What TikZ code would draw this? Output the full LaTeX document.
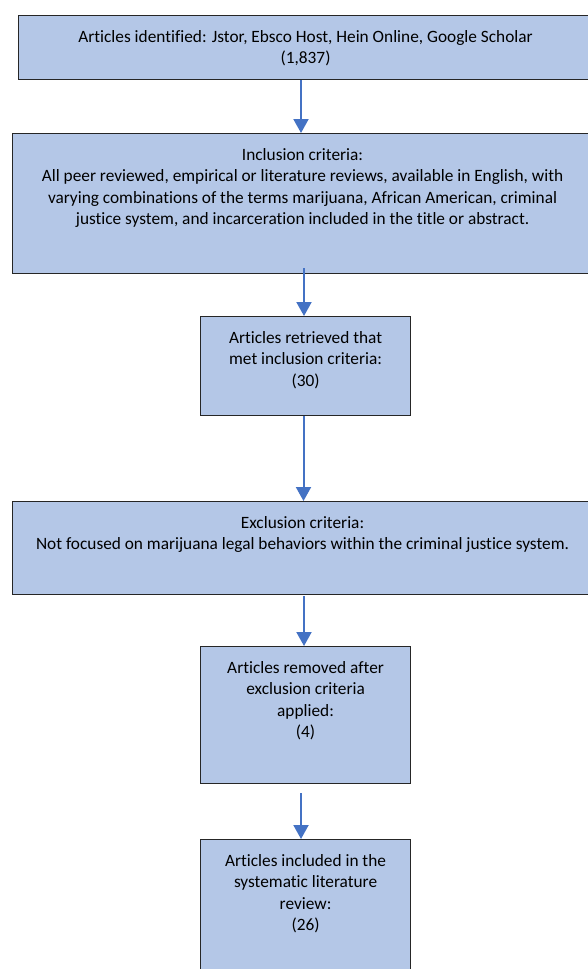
\documentclass[tikz,border=0pt]{standalone}
\usepackage{fontspec}
\setmainfont{Carlito}[Ligatures=NoCommon]
\usetikzlibrary{arrows.meta}
\definecolor{boxfill}{HTML}{B4C7E7}
\definecolor{boxline}{HTML}{262626}
\definecolor{arrowblue}{HTML}{4472C4}
\begin{document}
\begin{tikzpicture}[x=1pt,y=-1pt,
  flowbox/.style={draw=boxline, fill=boxfill, line width=1.1pt, inner sep=0pt, anchor=north west},
  boxtext/.style={anchor=north, inner sep=0pt, align=center, text=black,
    font=\fontsize{17.3}{21.5}\selectfont},
  flowarrow/.style={draw=arrowblue, line width=2pt, -{Triangle[width=15pt,length=14pt]}}]
\useasboundingbox (0,0) rectangle (588,969);
\clip (0,0) rectangle (588,969);
\fill[white] (0,0) rectangle (588,969);
% boxes
\node[flowbox, minimum width=574pt, minimum height=64pt] (b1) at (18,15) {};
\node[flowbox, minimum width=580pt, minimum height=140pt] (b2) at (12,133) {};
\node[flowbox, minimum width=210pt, minimum height=99pt] (b3) at (200,316) {};
\node[flowbox, minimum width=580pt, minimum height=93pt] (b4) at (12,501) {};
\node[flowbox, minimum width=210pt, minimum height=137pt] (b5) at (200,646) {};
\node[flowbox, minimum width=210pt, minimum height=160pt] (b6) at (200,839) {};
% texts
\node[boxtext] (t1) at ([yshift=-15pt]b1.north) {Articles identified: Jstor, Ebsco Host, Hein Online, Google Scholar\\(1,837)};
\node[boxtext] (t2) at ([yshift=-15pt]b2.north) {Inclusion criteria:\\All peer reviewed, empirical or literature reviews, available in English, with\\varying combinations of the terms marijuana, African American, criminal\\justice system, and incarceration included in the title or abstract.};
\node[boxtext] (t3) at ([yshift=-15pt]b3.north) {Articles retrieved that\\met inclusion criteria:\\(30)};
\node[boxtext] (t4) at ([yshift=-15pt]b4.north) {Exclusion criteria:\\Not focused on marijuana legal behaviors within the criminal justice system.};
\node[boxtext] (t5) at ([yshift=-15pt]b5.north) {Articles removed after\\exclusion criteria\\applied:\\(4)};
\node[boxtext] (t6) at ([yshift=-15pt]b6.north) {Articles included in the\\systematic literature\\review:\\(26)};
% arrow columns
\coordinate (x1) at (301,0);
\coordinate (x2) at (304,0);
\coordinate (x3) at (303.5,0);
\coordinate (x4) at (304,0);
\coordinate (x5) at (301,0);
\coordinate (s2) at ([yshift=6pt]b2.south);
\coordinate (s4) at ([yshift=-1pt]b4.south);
\coordinate (s5) at ([yshift=-9pt]b5.south);
% arrows
\draw[flowarrow] (b1.south -| x1) -- (b2.north -| x1);
\draw[flowarrow] (s2 -| x2) -- (b3.north -| x2);
\draw[flowarrow] (b3.south -| x3) -- (b4.north -| x3);
\draw[flowarrow] (s4 -| x4) -- (b5.north -| x4);
\draw[flowarrow] (s5 -| x5) -- (b6.north -| x5);
\end{tikzpicture}
\end{document}
